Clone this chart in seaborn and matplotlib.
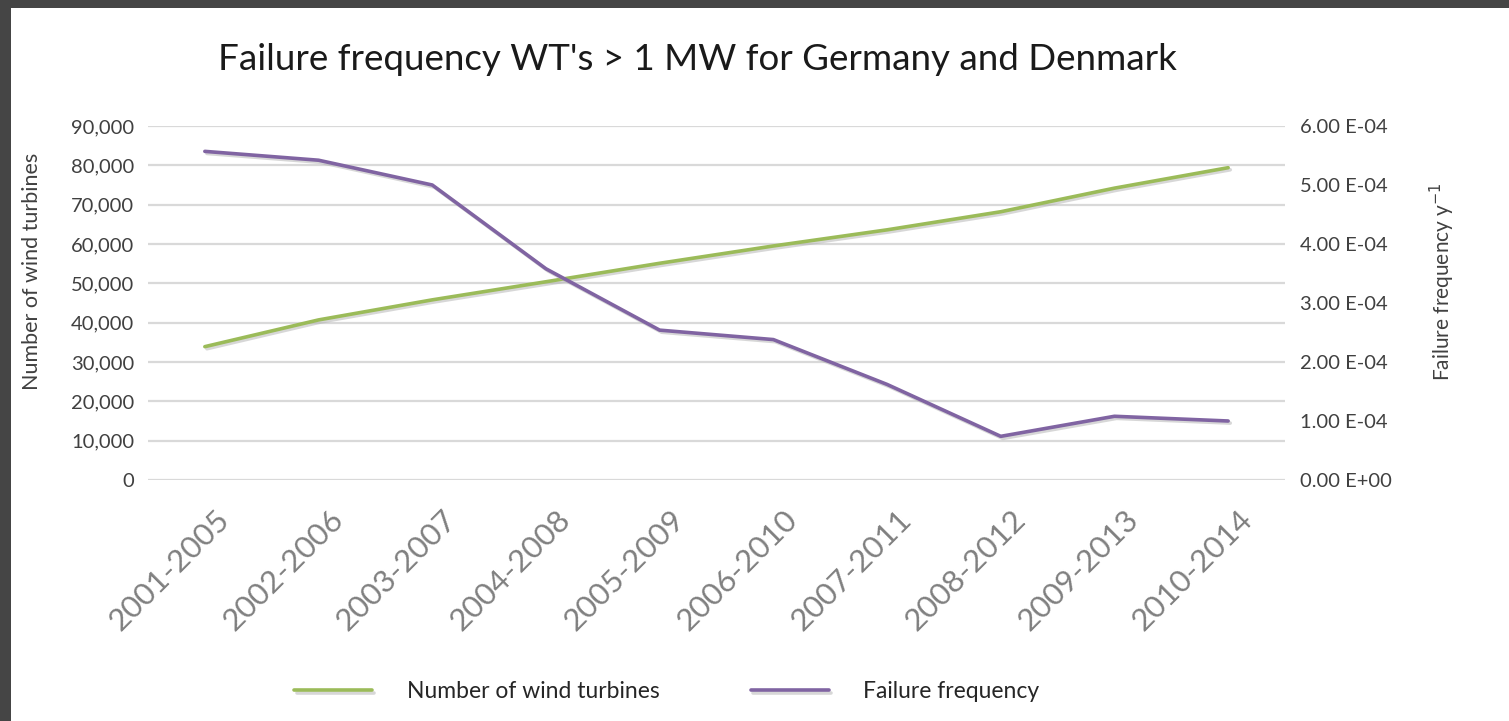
import matplotlib.pyplot as plt
import matplotlib as mpl
import matplotlib.patheffects as pe
import matplotlib.transforms as mtransforms
import seaborn as sns
import pandas as pd
from matplotlib.ticker import FuncFormatter, MultipleLocator

periods = ['2001-2005', '2002-2006', '2003-2007', '2004-2008', '2005-2009',
           '2006-2010', '2007-2011', '2008-2012', '2009-2013', '2010-2014']
turbines = [33900, 40700, 45800, 50400, 55100, 59500, 63600, 68200, 74200, 79400]
failure_freq = [5.57e-4, 5.42e-4, 5.00e-4, 3.58e-4, 2.54e-4,
                2.38e-4, 1.62e-4, 0.74e-4, 1.08e-4, 1.00e-4]

df = pd.DataFrame({'period': periods, 'turbines': turbines, 'failure': failure_freq})

sns.set_theme(style='white')
plt.rcParams['font.family'] = ['Lato', 'DejaVu Sans']

fig = plt.figure(figsize=(15.09, 7.21), dpi=100)
fig.patch.set_facecolor('#454545')
# white card, dark strip on top and left
fig.patches.append(mpl.patches.Rectangle((11 / 1509, 0), 1, 1 - 8 / 721, transform=fig.transFigure,
                                         facecolor='white', edgecolor='none', zorder=-1))

ax = fig.add_axes([148 / 1509, 1 - 480 / 721, (1285 - 148) / 1509, (480 - 126) / 721])
ax.set_facecolor('none')
ax2 = ax.twinx()

shadow = [pe.SimpleLineShadow(offset=(1.5, -1.5), shadow_color='#b0b0b0', alpha=0.5), pe.Normal()]
sns.lineplot(data=df, x='period', y='turbines', ax=ax, color='#9BBB59', linewidth=2.6,
             sort=False, label='Number of wind turbines', legend=False, path_effects=shadow)
sns.lineplot(data=df, x='period', y='failure', ax=ax2, color='#8064A2', linewidth=2.6,
             sort=False, label='Failure frequency', legend=False, path_effects=shadow)

ax.set_xlim(-0.5, len(periods) - 0.5)
ax.set_ylim(0, 90000)
ax.yaxis.set_major_locator(MultipleLocator(10000))
ax.yaxis.set_major_formatter(FuncFormatter(lambda v, p: '{:,.0f}'.format(v)))
ax2.set_ylim(0, 6e-4)
ax2.yaxis.set_major_locator(MultipleLocator(1e-4))
ax2.yaxis.set_major_formatter(FuncFormatter(
    lambda v, p: '0.00 E+00' if abs(v) < 1e-12 else '{:.2f} E-04'.format(v / 1e-4)))

ax.grid(axis='y', color='#d9d9d9', linewidth=1.6)
ax.grid(axis='x', visible=False)
ax2.grid(False)
for a in (ax, ax2):
    for s in a.spines.values():
        s.set_visible(False)
    a.tick_params(length=0)

ax.tick_params(axis='y', labelsize=14.5, labelcolor='#404040', pad=10)
ax2.tick_params(axis='y', labelsize=14.5, labelcolor='#404040', pad=11)

ax.set_xticks(range(len(periods)))
ax.set_xticklabels(periods, rotation=45, ha='right', rotation_mode='anchor',
                   fontsize=22.5, color='#808080')
ax.tick_params(axis='x', pad=18)
offset = mtransforms.ScaledTranslation(0.1, 0, fig.dpi_scale_trans)
for lbl in ax.get_xticklabels():
    lbl.set_transform(lbl.get_transform() + offset)

ax.set_xlabel('')
ax.set_ylabel('Number of wind turbines', fontsize=15.5, color='#404040')
ax.yaxis.set_label_coords(-0.093, 0.59)
ax2.set_ylabel('Failure frequency y$^{-1}$', fontsize=15, color='#404040')
ax2.yaxis.set_label_coords(1.126, 0.56)

fig.text(697 / 1509, 1 - 60 / 721, "Failure frequency WT's > 1 MW for Germany and Denmark",
         ha='center', va='center', fontsize=26.5, color='#1a1a1a')

h1, l1 = ax.get_legend_handles_labels()
h2, l2 = ax2.get_legend_handles_labels()
fig.legend(h1 + h2, l1 + l2, loc='center', bbox_to_anchor=(667 / 1509, 1 - 692 / 721), ncol=2,
           frameon=False, fontsize=16.5, handlelength=3.4, columnspacing=4, handletextpad=1.5,
           labelcolor='#262626')

fig.savefig('out.png', dpi=100, facecolor=fig.get_facecolor())
